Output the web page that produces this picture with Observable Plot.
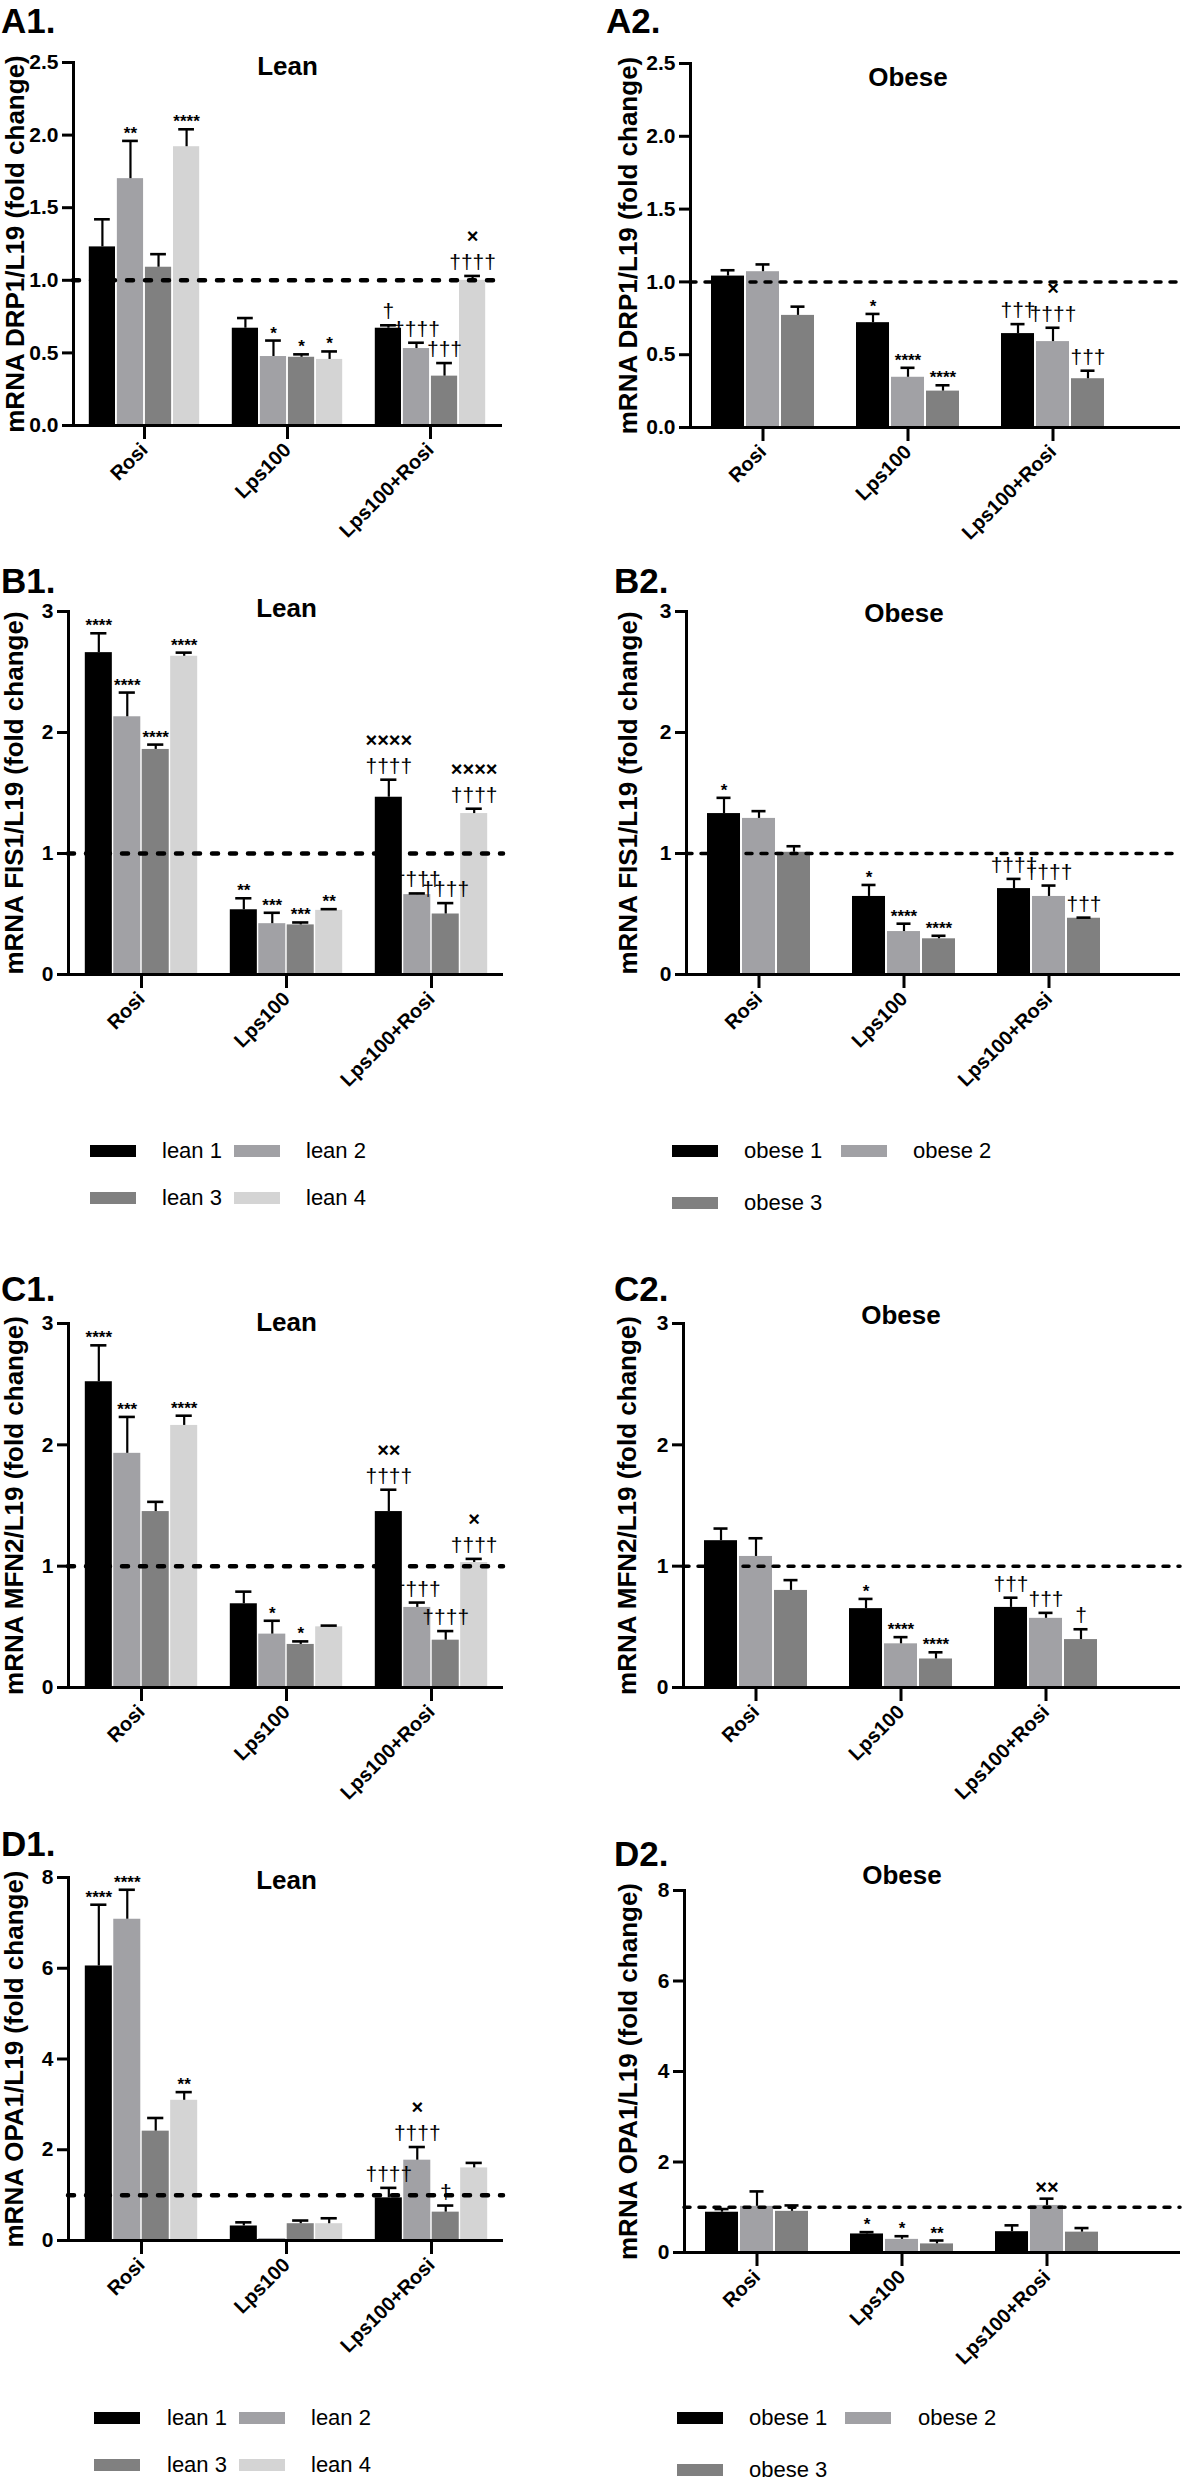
<!DOCTYPE html>
<html>
<head>
<meta charset="utf-8">
<script src="https://cdn.jsdelivr.net/npm/d3@7"></script>
<script src="https://cdn.jsdelivr.net/npm/@observablehq/plot@0.6"></script>
<style>
  html, body { margin: 0; padding: 0; background: #fff; }
  #page { position: relative; width: 1196px; height: 2480px; overflow: hidden; background: #fff;
          font-family: 'Liberation Sans', Arial, Helvetica, sans-serif; color: #000; }
  .letter { position: absolute; font-weight: bold; font-size: 35px; line-height: 35px; white-space: nowrap; }
  .panel { position: absolute; }
  .swatch { position: absolute; }
  .ltext { position: absolute; font-size: 22px; line-height: 22px; white-space: nowrap; }
</style>
</head>
<body>
<div id="page"></div>
<script>
// ---------------- DATA ----------------
const categories = ["Rosi", "Lps100", "Lps100+Rosi"];
const leanGroups = ["lean 1", "lean 2", "lean 3", "lean 4"];
const obeseGroups = ["obese 1", "obese 2", "obese 3"];
const leanColors = ["#000000", "#a1a1a5", "#808080", "#d4d4d4"];
const obeseColors = ["#000000", "#a1a1a5", "#808080"];

// rows = categories, columns = groups
const drp1LeanMean = [[1.23, 1.70, 1.09, 1.92], [0.67, 0.475, 0.47, 0.455], [0.67, 0.53, 0.34, 1.00]];
const drp1LeanSem  = [[0.19, 0.26, 0.09, 0.12], [0.07, 0.11, 0.02, 0.055], [0.02, 0.04, 0.09, 0.03]];
const drp1LeanSig  = [["", "**", "", "****"], ["", "*", "*", "*"], ["†", "††††", "†††", "×\n††††"]];

const drp1ObeseMean = [[1.04, 1.07, 0.77], [0.72, 0.345, 0.25], [0.645, 0.59, 0.335]];
const drp1ObeseSem  = [[0.04, 0.05, 0.06], [0.06, 0.065, 0.04], [0.065, 0.095, 0.055]];
const drp1ObeseSig  = [["", "", ""], ["*", "****", "****"], ["†††", "×\n††††", "†††"]];

const fis1LeanMean = [[2.66, 2.13, 1.86, 2.63], [0.535, 0.42, 0.41, 0.53], [1.465, 0.66, 0.50, 1.33]];
const fis1LeanSem  = [[0.16, 0.20, 0.04, 0.03], [0.095, 0.09, 0.02, 0.01], [0.145, 0.01, 0.09, 0.04]];
const fis1LeanSig  = [["****", "****", "****", "****"], ["**", "***", "***", "**"], ["××××\n††††", "††††", "††††", "××××\n††††"]];

const fis1ObeseMean = [[1.33, 1.29, 1.01], [0.645, 0.355, 0.295], [0.71, 0.645, 0.465]];
const fis1ObeseSem  = [[0.13, 0.06, 0.05], [0.095, 0.065, 0.025], [0.08, 0.09, 0.005]];
const fis1ObeseSig  = [["*", "", ""], ["*", "****", "****"], ["††††", "††††", "†††"]];

const mfn2LeanMean = [[2.52, 1.93, 1.45, 2.16], [0.69, 0.44, 0.355, 0.50], [1.45, 0.66, 0.39, 1.03]];
const mfn2LeanSem  = [[0.30, 0.30, 0.08, 0.08], [0.10, 0.11, 0.025, 0.01], [0.18, 0.04, 0.075, 0.03]];
const mfn2LeanSig  = [["****", "***", "", "****"], ["", "*", "*", ""], ["××\n††††", "††††", "††††", "×\n††††"]];

const mfn2ObeseMean = [[1.21, 1.08, 0.80], [0.65, 0.36, 0.235], [0.66, 0.57, 0.395]];
const mfn2ObeseSem  = [[0.10, 0.15, 0.085], [0.08, 0.055, 0.055], [0.08, 0.045, 0.085]];
const mfn2ObeseSig  = [["", "", ""], ["*", "****", "****"], ["†††", "†††", "†"]];

const opa1LeanMean = [[6.05, 7.08, 2.41, 3.09], [0.32, 0.04, 0.37, 0.37], [0.94, 1.77, 0.625, 1.60]];
const opa1LeanSem  = [[1.35, 0.65, 0.29, 0.18], [0.08, 0, 0.07, 0.12], [0.22, 0.29, 0.145, 0.11]];
const opa1LeanSig  = [["****", "****", "", "**"], ["", "", "", ""], ["††††", "×\n††††", "†", ""]];

const opa1ObeseMean = [[0.89, 1.02, 0.91], [0.41, 0.29, 0.19], [0.46, 1.04, 0.45]];
const opa1ObeseSem  = [[0.07, 0.33, 0.13], [0.04, 0.07, 0.075], [0.14, 0.15, 0.09]];
const opa1ObeseSig  = [["", "", ""], ["*", "*", "**"], ["", "××", ""]];

const yTicksA = [0, 0.5, 1, 1.5, 2, 2.5];
const yTicksBC = [0, 1, 2, 3];
const yTicksD = [0, 2, 4, 6, 8];

// ---------------- PANELS ----------------
const panels = [
  {id: "A1.", title: "Lean", ylabel: "mRNA DRP1/L19 (fold change)", yMax: 2.5, ticks: yTicksA, fmt: ".1f",
   mean: drp1LeanMean, sem: drp1LeanSem, sig: drp1LeanSig, groups: leanGroups, colors: leanColors,
   L: {left: 0, width: 596, axisX: 73, yTop: 62, y0: 425, groupEnd: 502, lineEnd: 502, titleDy: 4, labelDx: -58, lx: 1, ly: 7}},
  {id: "A2.", title: "Obese", ylabel: "mRNA DRP1/L19 (fold change)", yMax: 2.5, ticks: yTicksA, fmt: ".1f",
   mean: drp1ObeseMean, sem: drp1ObeseSem, sig: drp1ObeseSig, groups: obeseGroups, colors: obeseColors,
   L: {left: 596, width: 600, axisX: 690, yTop: 63, y0: 427, groupEnd: 1125, lineEnd: 1180, titleDy: 14, labelDx: -62, lx: 606, ly: 7}},
  {id: "B1.", title: "Lean", ylabel: "mRNA FIS1/L19 (fold change)", yMax: 3, ticks: yTicksBC, fmt: "d",
   mean: fis1LeanMean, sem: fis1LeanSem, sig: fis1LeanSig, groups: leanGroups, colors: leanColors,
   L: {left: 0, width: 596, axisX: 68, yTop: 611, y0: 974, groupEnd: 503, lineEnd: 503, titleDy: -3, labelDx: -54, lx: 1, ly: 567}},
  {id: "B2.", title: "Obese", ylabel: "mRNA FIS1/L19 (fold change)", yMax: 3, ticks: yTicksBC, fmt: "d",
   mean: fis1ObeseMean, sem: fis1ObeseSem, sig: fis1ObeseSig, groups: obeseGroups, colors: obeseColors,
   L: {left: 596, width: 600, axisX: 686, yTop: 611, y0: 974, groupEnd: 1121, lineEnd: 1180, titleDy: 2, labelDx: -58, lx: 614, ly: 567}},
  {id: "C1.", title: "Lean", ylabel: "mRNA MFN2/L19 (fold change)", yMax: 3, ticks: yTicksBC, fmt: "d",
   mean: mfn2LeanMean, sem: mfn2LeanSem, sig: mfn2LeanSig, groups: leanGroups, colors: leanColors,
   L: {left: 0, width: 596, axisX: 68, yTop: 1323, y0: 1687, groupEnd: 503, lineEnd: 503, titleDy: -1, labelDx: -54, lx: 1, ly: 1275}},
  {id: "C2.", title: "Obese", ylabel: "mRNA MFN2/L19 (fold change)", yMax: 3, ticks: yTicksBC, fmt: "d",
   mean: mfn2ObeseMean, sem: mfn2ObeseSem, sig: mfn2ObeseSig, groups: obeseGroups, colors: obeseColors,
   L: {left: 596, width: 600, axisX: 683, yTop: 1323, y0: 1687, groupEnd: 1118, lineEnd: 1180, titleDy: -8, labelDx: -56, lx: 614, ly: 1275}},
  {id: "D1.", title: "Lean", ylabel: "mRNA OPA1/L19 (fold change)", yMax: 8, ticks: yTicksD, fmt: "d",
   mean: opa1LeanMean, sem: opa1LeanSem, sig: opa1LeanSig, groups: leanGroups, colors: leanColors,
   L: {left: 0, width: 596, axisX: 68, yTop: 1877, y0: 2240, groupEnd: 503, lineEnd: 503, titleDy: 3, labelDx: -54, lx: 1, ly: 1830}},
  {id: "D2.", title: "Obese", ylabel: "mRNA OPA1/L19 (fold change)", yMax: 8, ticks: yTicksD, fmt: "d",
   mean: opa1ObeseMean, sem: opa1ObeseSem, sig: opa1ObeseSig, groups: obeseGroups, colors: obeseColors,
   L: {left: 596, width: 600, axisX: 684, yTop: 1890, y0: 2252, groupEnd: 1119, lineEnd: 1180, titleDy: -15, labelDx: -56, lx: 614, ly: 1840}}
];

const legends = [
  {groups: leanGroups, colors: leanColors, swatchX: [90, 234], textX: [162, 306], rowY: [1151, 1198]},
  {groups: obeseGroups, colors: obeseColors, swatchX: [672, 841], textX: [744, 913], rowY: [1151, 1203]},
  {groups: leanGroups, colors: leanColors, swatchX: [94, 239], textX: [167, 311], rowY: [2418, 2465]},
  {groups: obeseGroups, colors: obeseColors, swatchX: [677, 845], textX: [749, 918], rowY: [2418, 2470]}
];

const FONT = "'Liberation Sans', Arial, Helvetica, sans-serif";
const page = document.getElementById("page");

function splitSig(s) {
  const out = {stars: "", dag: "", cross: ""};
  if (!s) return out;
  if (s.includes("*")) { out.stars = s; return out; }
  for (const p of s.split("\n")) {
    if (p.includes("×")) out.cross = p; else out.dag = p;
  }
  return out;
}

function drawPanel(cfg) {
  const L = cfg.L;
  const n = cfg.groups.length;
  const lean = n === 4;
  const mt = 50, mb = 165;
  const plotH = L.y0 - L.yTop;
  const height = mt + plotH + mb;
  const ml = L.axisX - L.left;
  const mr = L.width - (L.lineEnd - L.left);
  const xRange = [ml, L.groupEnd - L.left];
  const pi = lean ? 0.215 : 0.276;
  const po = pi / 2;
  const xOpts = {type: "band", domain: categories, range: xRange, paddingInner: pi, paddingOuter: po};
  const bw = Plot.scale({x: xOpts}).bandwidth;
  const w = bw / n;
  const cap = lean ? 16 : 14;
  const gap = lean ? 0.8 : 1;

  const rows = [];
  categories.forEach((c, ci) => cfg.groups.forEach((g, gi) => {
    const s = splitSig(cfg.sig[ci][gi]);
    rows.push({cat: c, group: g, gi, mean: cfg.mean[ci][gi], sem: cfg.sem[ci][gi], top: cfg.mean[ci][gi] + cfg.sem[ci][gi], ...s});
  }));

  const marks = [];
  cfg.groups.forEach((g, i) => {
    marks.push(Plot.barY(rows.filter(d => d.gi === i), {
      x: "cat", y: "mean", fill: cfg.colors[i],
      insetLeft: i * w + gap, insetRight: (n - 1 - i) * w + gap
    }));
  });
  // reference line at 1
  marks.push(Plot.ruleY([1], lean
    ? {strokeWidth: 4.5, strokeDasharray: "6,12", strokeLinecap: "round"}
    : {strokeWidth: 3.5, strokeDasharray: "6,9", strokeLinecap: "round"}));
  cfg.groups.forEach((g, i) => {
    const d = rows.filter(r => r.gi === i);
    const eb = d.filter(r => r.sem > 0);
    const off = (i + 0.5) * w - bw / 2;
    marks.push(Plot.ruleX(eb, {x: "cat", y1: "mean", y2: "top", dx: off, strokeWidth: 2.2}));
    marks.push(Plot.tickY(eb, {x: "cat", y: "top", strokeWidth: 2.6,
      insetLeft: (i + 0.5) * w - cap / 2, insetRight: bw - (i + 0.5) * w - cap / 2}));
    marks.push(Plot.text(d.filter(r => r.stars), {x: "cat", y: "top", text: "stars", dx: off, dy: -2,
      lineAnchor: "bottom", fontSize: 17, fontWeight: "bold", fill: "#000"}));
    marks.push(Plot.text(d.filter(r => r.dag), {x: "cat", y: "top", text: "dag", dx: off, dy: -7,
      lineAnchor: "bottom", fontSize: 21, fontWeight: "normal", fill: "#000"}));
    marks.push(Plot.text(d.filter(r => r.cross && r.dag), {x: "cat", y: "top", text: "cross", dx: off, dy: -33,
      lineAnchor: "bottom", fontSize: 20, fontWeight: "bold", fill: "#000"}));
    marks.push(Plot.text(d.filter(r => r.cross && !r.dag), {x: "cat", y: "top", text: "cross", dx: off, dy: -5,
      lineAnchor: "bottom", fontSize: 20, fontWeight: "bold", fill: "#000"}));
  });
  marks.push(
    Plot.frame({anchor: "left", strokeWidth: 3}),
    Plot.ruleY([0], {strokeWidth: 3}),
    Plot.axisY({ticks: cfg.ticks, tickFormat: cfg.fmt, tickSize: 11, tickPadding: 4, fontSize: 21,
                fontWeight: "bold", strokeWidth: 3, label: null}),
    Plot.axisX({tickSize: 14, tickPadding: 7, tickRotate: -45, fontSize: 20, fontWeight: "bold",
                strokeWidth: 3, label: null}),
    Plot.text([{cat: categories[1], v: cfg.yMax, t: cfg.title}], {x: "cat", y: "v", text: "t",
      fontSize: 26, fontWeight: "bold", lineAnchor: "middle", dy: L.titleDy, fill: "#000"}),
    Plot.text([cfg.ylabel], {frameAnchor: "left", text: d => d, rotate: -90, dx: L.labelDx,
      textAnchor: "middle", fontSize: 26, fontWeight: "bold", lineAnchor: "middle", fill: "#000"})
  );

  const svg = Plot.plot({
    width: L.width, height,
    marginLeft: ml, marginRight: mr, marginTop: mt, marginBottom: mb,
    style: {fontFamily: FONT, fontWeight: "bold", background: "transparent", overflow: "visible", color: "#000"},
    x: xOpts,
    y: {domain: [0, cfg.yMax]},
    marks
  });
  const div = document.createElement("div");
  div.className = "panel";
  div.style.left = L.left + "px";
  div.style.top = (L.yTop - mt) + "px";
  div.style.width = L.width + "px";
  div.appendChild(svg);
  page.appendChild(div);

  const lab = document.createElement("div");
  lab.className = "letter";
  lab.textContent = cfg.id;
  lab.style.left = L.lx + "px";
  lab.style.top = (L.ly - 4.5) + "px";
  page.appendChild(lab);
}

panels.forEach(drawPanel);

legends.forEach(lg => {
  lg.groups.forEach((g, i) => {
    const col = i % 2, row = Math.floor(i / 2);
    const sw = document.createElement("div");
    sw.className = "swatch";
    sw.style.left = lg.swatchX[col] + "px";
    sw.style.top = (lg.rowY[row] - 6) + "px";
    sw.style.width = "46px";
    sw.style.height = "12px";
    sw.style.background = lg.colors[i];
    page.appendChild(sw);
    const t = document.createElement("div");
    t.className = "ltext";
    t.textContent = g;
    t.style.left = lg.textX[col] + "px";
    t.style.top = (lg.rowY[row] - 11) + "px";
    page.appendChild(t);
  });
});
</script>
</body>
</html>
